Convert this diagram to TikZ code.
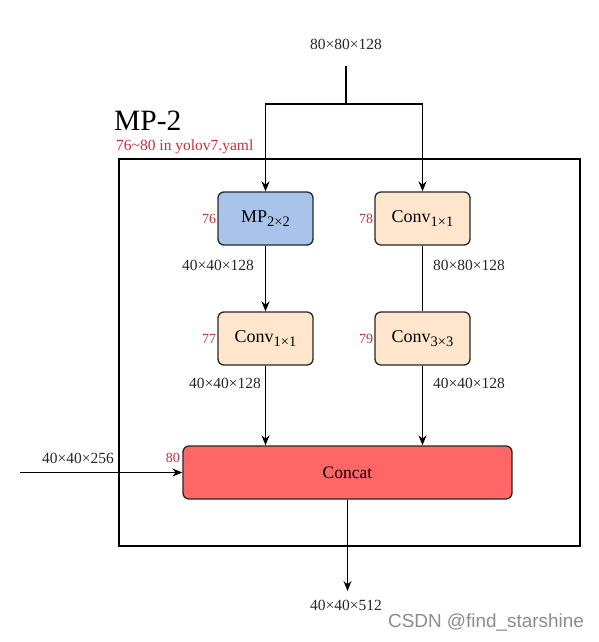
\documentclass[tikz,border=0pt]{standalone}
\usepackage{fontspec}
\setmainfont{Liberation Serif}
\newfontfamily\wmfont{Liberation Sans}
\usetikzlibrary{arrows.meta}
\definecolor{mpblue}{HTML}{A9C4EB}
\definecolor{convor}{HTML}{FFE6CC}
\definecolor{catred}{HTML}{FF6666}
\definecolor{idred}{HTML}{C0303A}
\newcommand{\sbx}[1]{\raisebox{-4.5pt}{\fontsize{14.5}{16}\selectfont #1}}
\begin{document}
\begin{tikzpicture}[x=1pt,y=-1pt,
  blk/.style={draw=black!85, line width=1.3pt, rounded corners=6pt, minimum width=95pt, minimum height=53pt, font=\fontsize{18}{20}\selectfont, inner sep=0pt},
  dim/.style={font=\fontsize{15.5}{17}\selectfont, text=black!85, inner sep=1pt},
  idx/.style={font=\fontsize{14}{16}\selectfont, text=idred, inner sep=1pt},
  ln/.style={line width=1.3pt, black},
  arr/.style={ln, -{Stealth[length=10pt,width=8pt]}}]
\useasboundingbox (0,0) rectangle (599,642);
% outer frame
\node[draw, line width=1.3pt, minimum width=461pt, minimum height=387pt, inner sep=0pt] (frame) at (349.5,352.5) {};
\node[font=\fontsize{29.5}{32}\selectfont, anchor=west, inner sep=0pt] (title) at (114,121) {MP-2};
\node[font=\fontsize{15.5}{17}\selectfont, text=idred, anchor=west, inner sep=0pt] (sub) at (116,147) {76\textasciitilde80 in yolov7.yaml};
% blocks
\node[blk, fill=mpblue] (mp) at (265.5,218.5) {MP\sbx{2×2}};
\node[blk, fill=convor] (c78) at (422.5,218.5) {Conv\sbx{1×1}};
\node[blk, fill=convor] (c77) at (265.5,338.5) {Conv\sbx{1×1}};
\node[blk, fill=convor] (c79) at (422.5,338.5) {Conv\sbx{3×3}};
\node[blk, fill=catred, minimum width=329pt, font=\fontsize{17.5}{20}\selectfont] (cat) at (347.5,472.5) {Concat};
% indices
\node[idx, anchor=east] (i76) at (mp.west) {76};
\node[idx, anchor=east] (i78) at (c78.west) {78};
\node[idx, anchor=east] (i77) at (c77.west) {77};
\node[idx, anchor=east] (i79) at (c79.west) {79};
\node[idx, anchor=east] (i80) at (181,458) {80};
% connectors
\node[dim] (inlab) at (346,44) {80×80×128};
\coordinate (in) at (346,66);
\coordinate (split) at (346,104);
\draw[ln] (in) -- (split);
\draw[arr] (split) -| (mp.north);
\draw[arr] (split) -| (c78.north);
\draw[arr] (mp.south) -- (c77.north);
\draw[ln] (c78.south) -- (c79.north);
\draw[arr] (c77.south) -- (c77.south |- cat.north);
\draw[arr] (c79.south) -- (c79.south |- cat.north);
\coordinate (left) at (20,472.5);
\draw[arr] (left) -- (cat.west);
\coordinate (out) at (347.5,591);
\draw[arr] (cat.south) -- (out);
% dims
\node[dim] (d1) at (218,265) {40×40×128};
\node[dim] (d2) at (469,265) {80×80×128};
\node[dim] (d3) at (225,383) {40×40×128};
\node[dim] (d4) at (469,383) {40×40×128};
\node[dim] (d5) at (78,458) {40×40×256};
\node[dim] (d6) at (346,605) {40×40×512};
\node[font=\wmfont\fontsize{18.9}{20}\selectfont, text=black!45, inner sep=0pt] (wm) at (486,623) {CSDN @find\_starshine};
\end{tikzpicture}
\end{document}
